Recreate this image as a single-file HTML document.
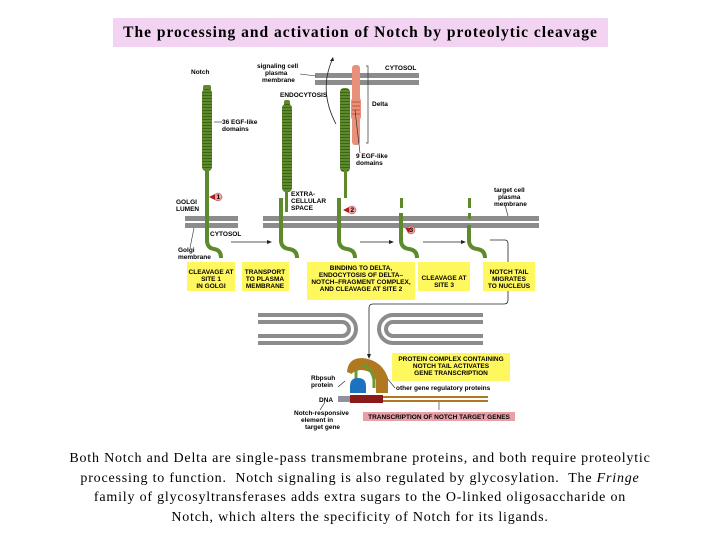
<!DOCTYPE html>
<html><head><meta charset="utf-8"><style>
body{margin:0;width:720px;height:540px;background:#fff;overflow:hidden;position:relative;font-family:"Liberation Serif",serif}
#t{position:absolute;left:113px;top:18px;width:495px;height:29px;background:#f2d4f2;font-weight:bold;font-size:15.5px;text-align:center;line-height:29px;letter-spacing:1px;white-space:nowrap}
#p{position:absolute;left:0;top:449px;width:720px;font-size:14px;line-height:19.7px;text-align:center;letter-spacing:0.8px;white-space:nowrap}
svg{position:absolute;left:0;top:0}
svg text{font-family:"Liberation Sans",sans-serif;font-weight:bold;font-size:6.5px}
</style></head><body>
<div id="t">The processing and activation of Notch by proteolytic cleavage</div>
<svg width="720" height="540">
<defs>
<pattern id="egf" width="4" height="3" patternUnits="userSpaceOnUse"><rect width="4" height="3" fill="#5d8a2a"/><rect y="2" width="4" height="1" fill="#3d6418"/></pattern>
</defs>
<g fill="#8c8c8c">
<rect x="185" y="216" width="53" height="5"/><rect x="185" y="223" width="53" height="5"/>
<rect x="263" y="216" width="276" height="5"/><rect x="263" y="223" width="276" height="5"/>
<rect x="315" y="73" width="104" height="5"/><rect x="315" y="80" width="104" height="5"/>
</g>
<g fill="#5d8a2a" stroke="none">
<rect x="203" y="85" width="8" height="6" rx="2"/>
<rect x="202" y="89" width="10" height="82" rx="4" fill="url(#egf)"/>
<rect x="205" y="170" width="4" height="72"/>
</g>
<path d="M207 240 Q207 248 214 249 Q221 250 221 258" fill="none" stroke="#5d8a2a" stroke-width="4"/>
<rect x="284" y="100" width="6" height="6" rx="2" fill="#5d8a2a"/>
<rect x="282" y="104" width="10" height="88" rx="4" fill="url(#egf)"/>
<rect x="285" y="190" width="3" height="22" fill="#5d8a2a"/>
<rect x="279" y="198" width="4" height="44" fill="#5d8a2a"/>
<path d="M281 240 Q281 248 289 249 Q297 250 297 258" fill="none" stroke="#5d8a2a" stroke-width="4"/>
<rect x="352" y="65" width="8" height="80" rx="3" fill="#e8907a"/>
<rect x="351" y="98" width="10" height="22" rx="3" fill="#e8907a"/>
<g stroke="#c0403a" stroke-width="0.8"><line x1="352" y1="102" x2="360" y2="102"/><line x1="352" y1="106" x2="360" y2="106"/><line x1="352" y1="110" x2="360" y2="110"/><line x1="352" y1="114" x2="360" y2="114"/></g>
<path d="M366 66 H368 V143 H366" fill="none" stroke="#333" stroke-width="0.7"/>
<rect x="340" y="88" width="10" height="84" rx="4" fill="url(#egf)"/>
<rect x="344" y="170" width="3" height="28" fill="#5d8a2a"/>
<rect x="337" y="198" width="4" height="44" fill="#5d8a2a"/>
<path d="M339 240 Q339 248 347 249 Q355 250 355 258" fill="none" stroke="#5d8a2a" stroke-width="4"/>
<path d="M336 124 Q318 90 333 58" fill="none" stroke="#222" stroke-width="0.8"/>
<path d="M333 57 l-3 4 l4 0z" fill="#222"/>
<rect x="400" y="198" width="3" height="10" fill="#5d8a2a"/>
<rect x="399" y="213" width="4" height="29" fill="#5d8a2a"/>
<path d="M401 240 Q401 248 409 249 Q417 250 417 258" fill="none" stroke="#5d8a2a" stroke-width="4"/>
<rect x="468" y="198" width="3" height="10" fill="#5d8a2a"/>
<rect x="468" y="213" width="3" height="6" fill="#5d8a2a"/>
<rect x="467" y="225" width="4" height="17" fill="#5d8a2a"/>
<path d="M469 240 Q469 248 477 249 Q485 250 485 258" fill="none" stroke="#5d8a2a" stroke-width="4"/>
<g fill="#e8a0a0" stroke="#c04040" stroke-width="0.5"><circle cx="218" cy="197" r="4"/><circle cx="352" cy="210" r="4"/><circle cx="411" cy="230" r="4"/></g>
<g fill="#b01c1c"><path d="M209 197 l6 -3 v6z"/><path d="M343 210 l6 -3 v6z"/><path d="M405 228 l4 5 l2 -5z"/></g>
<g font-size="5"><text x="216.5" y="199" font-size="5">1</text><text x="350.5" y="212" font-size="5">2</text><text x="409.5" y="232" font-size="5">3</text></g>
<g stroke="#222" stroke-width="0.8" fill="none">
<line x1="231" y1="242" x2="268" y2="242"/><line x1="360" y1="242" x2="390" y2="242"/><line x1="423" y1="242" x2="462" y2="242"/>
<path d="M490 240 H505 Q508 240 508 244 V300 Q508 304 504 304 H373 Q369 304 369 308 V355"/>
</g>
<g fill="#222"><path d="M272 242 l-5 -2 v4z"/><path d="M394 242 l-5 -2 v4z"/><path d="M466 242 l-5 -2 v4z"/><path d="M369 359 l-2 -5 h4z"/></g>
<g fill="#fff75e"><rect x="187" y="262" width="48" height="29"/><rect x="242" y="262" width="47" height="29"/><rect x="307" y="262" width="108" height="38"/><rect x="418" y="262" width="52" height="29"/><rect x="483" y="262" width="52" height="29"/><rect x="392" y="353" width="118" height="28"/></g>
<rect x="363" y="412" width="152" height="9" fill="#e8a0a8"/>
<g text-anchor="middle" font-size="6">
<text x="211" y="274">CLEAVAGE AT</text><text x="211" y="281">SITE 1</text><text x="211" y="288">IN GOLGI</text>
<text x="265" y="274">TRANSPORT</text><text x="265" y="281">TO PLASMA</text><text x="265" y="288">MEMBRANE</text>
<text x="361" y="270">BINDING TO DELTA,</text><text x="361" y="277">ENDOCYTOSIS OF DELTA–</text><text x="361" y="284">NOTCH–FRAGMENT COMPLEX,</text><text x="361" y="291">AND CLEAVAGE AT SITE 2</text>
<text x="444" y="280">CLEAVAGE AT</text><text x="444" y="287">SITE 3</text>
<text x="509" y="274">NOTCH TAIL</text><text x="509" y="281">MIGRATES</text><text x="509" y="288">TO NUCLEUS</text>
<text x="451" y="361">PROTEIN COMPLEX CONTAINING</text><text x="451" y="368">NOTCH TAIL ACTIVATES</text><text x="451" y="375">GENE TRANSCRIPTION</text>
<text x="439" y="419">TRANSCRIPTION OF NOTCH TARGET GENES</text>
</g>
<g font-size="6">
<text x="191" y="74">Notch</text>
<text x="257" y="68">signaling cell</text><text x="265" y="75">plasma</text><text x="262" y="82">membrane</text>
<text x="280" y="97">ENDOCYTOSIS</text>
<text x="385" y="70">CYTOSOL</text>
<text x="372" y="106">Delta</text>
<text x="222" y="124">36 EGF-like</text><text x="222" y="131">domains</text>
<text x="356" y="158">9 EGF-like</text><text x="356" y="165">domains</text>
<text x="291" y="196">EXTRA-</text><text x="291" y="203">CELLULAR</text><text x="291" y="210">SPACE</text>
<text x="176" y="204">GOLGI</text><text x="176" y="211">LUMEN</text>
<text x="210" y="236">CYTOSOL</text>
<text x="178" y="252">Golgi</text><text x="178" y="259">membrane</text>
<text x="494" y="192">target cell</text><text x="498" y="199">plasma</text><text x="494" y="206">membrane</text>
<text x="311" y="380">Rbpsuh</text><text x="311" y="387">protein</text>
<text x="319" y="402">DNA</text>
<text x="396" y="390">other gene regulatory proteins</text>
<text x="294" y="415">Notch-responsive</text><text x="301" y="422">element in</text><text x="305" y="429">target gene</text>
</g>
<g stroke="#222" stroke-width="0.6" fill="none"><line x1="214" y1="122" x2="222" y2="122"/><line x1="300" y1="74" x2="316" y2="76"/><line x1="355" y1="110" x2="360" y2="153"/><line x1="505" y1="205" x2="508" y2="216"/><line x1="190" y1="248" x2="194" y2="228"/><line x1="338" y1="387" x2="345" y2="381"/><line x1="395" y1="388" x2="382" y2="372"/><line x1="320" y1="410" x2="325" y2="402"/><line x1="439" y1="401" x2="439" y2="410"/></g>
<g fill="none" stroke="#8c8c8c" stroke-width="4">
<path d="M258 315 H342 A14 14 0 0 1 342 343 H258"/><path d="M258 322 H342 A7 7 0 0 1 342 336 H258"/>
<path d="M483 315 H393 A14 14 0 0 0 393 343 H483"/><path d="M483 322 H393 A7 7 0 0 0 393 336 H483"/>
</g>
<rect x="338" y="396" width="150" height="2" fill="#b07820"/><rect x="338" y="400" width="150" height="2" fill="#b07820"/>
<rect x="338" y="396" width="12" height="6" fill="#9090a0"/>
<rect x="350" y="395" width="33" height="8" fill="#8a1a1a"/>
<path d="M347 372 Q348 358 362 358 Q382 360 388 378 V393 H376 V380 Q372 370 360 370 Q352 372 352 374z" fill="#b07820"/>
<path d="M356 370 V388 M362 365 Q372 368 374 380 V388" stroke="#6a9a30" stroke-width="3" fill="none"/>
<path d="M350 393 V386 Q350 378 358 378 Q366 378 366 386 V393z" fill="#1e70c0"/>
</svg>
<div id="p">Both Notch and Delta are single-pass transmembrane proteins, and both require proteolytic<br>processing to function. &nbsp;Notch signaling is also regulated by glycosylation. &nbsp;The <i>Fringe</i><br>family of glycosyltransferases adds extra sugars to the O-linked oligosaccharide on<br>Notch, which alters the specificity of Notch for its ligands.</div>
</body></html>
